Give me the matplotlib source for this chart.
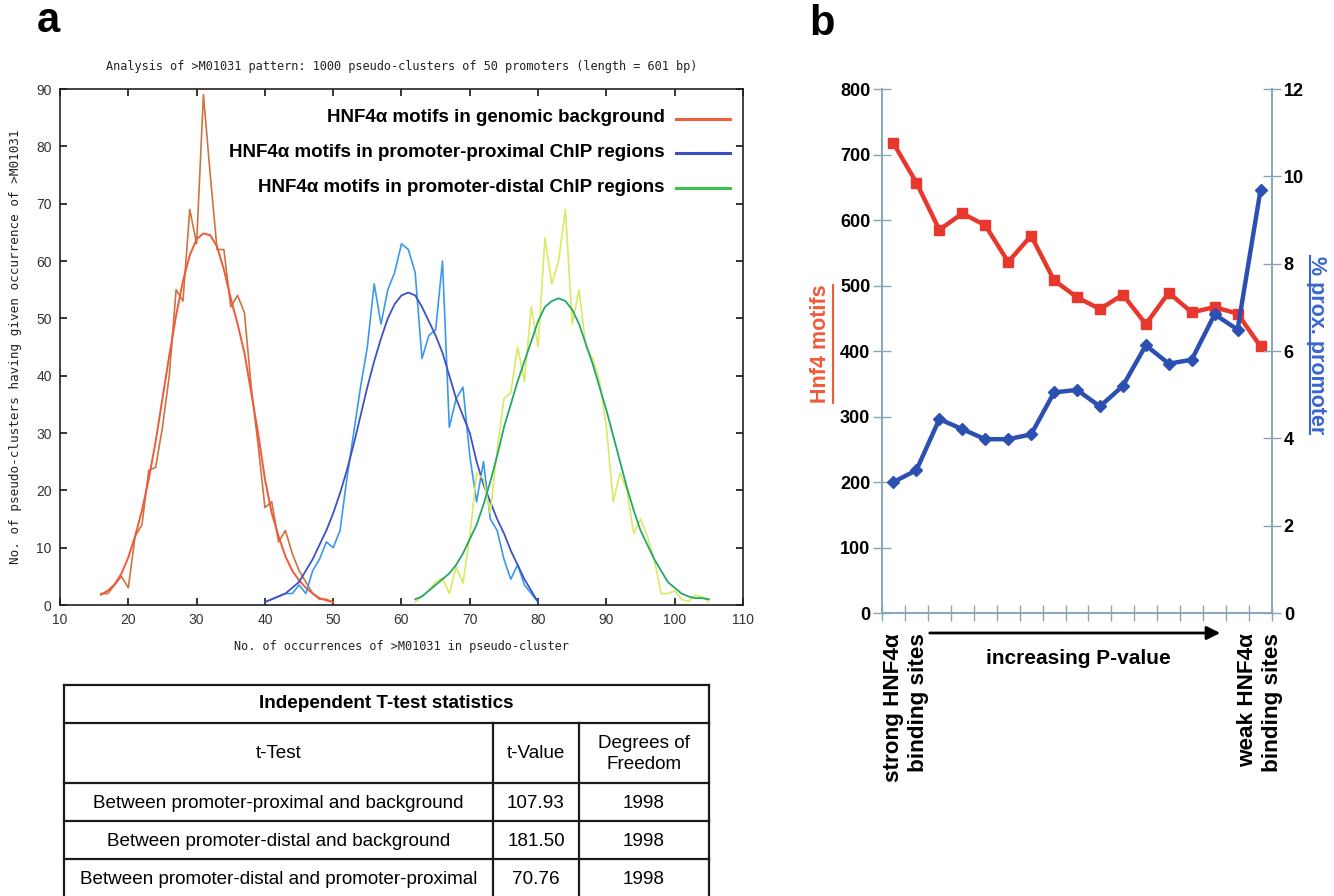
import numpy as np
import matplotlib
matplotlib.use("Agg")
import matplotlib.pyplot as plt
from matplotlib import font_manager

W, H = 1334, 896

# ---- panel a: counts per number of occurrences ----
bg_x = list(range(16, 51))
bg_raw = [2, 2, 3.5, 5, 3, 12, 14, 23.5, 24, 31, 40, 55, 53, 69, 63, 89, 75, 62, 62, 52,
          54, 51, 38, 28, 17, 18, 11, 13, 9, 6, 4, 2, 1, 1, 0.5]
bg_fit = [1.8, 2.5, 3.6, 5.5, 8.3, 12, 16.5, 22, 28.5, 36, 43.5, 50.5, 56.5, 61, 63.8, 64.8,
          64.5, 62.5, 58.5, 53.5, 49, 44, 37, 30, 22, 16, 12, 8.5, 6, 4.3, 3, 2, 1.2, 0.8, 0.5]

prox_x = list(range(40, 81))
prox_raw = [0.5, 1, 1.5, 2, 2, 3.5, 2, 6, 8, 11,
            10, 13, 22, 30, 38, 45, 56, 49, 55, 58,
            63, 62, 58, 43, 47, 48, 60, 31, 36, 38,
            26, 18, 25, 15, 13, 8, 4.5, 7, 3.5, 2, 0.5]
prox_fit = [0.5, 1, 1.5, 2, 3, 4, 6, 8, 10.5, 13,
            16, 19.5, 23.5, 28, 33, 38, 42.5, 46.5, 50, 52.5,
            54, 54.5, 54, 52, 49.5, 47, 44, 40, 36, 33,
            30, 25, 21, 18, 15, 12.5, 9.5, 7, 4.5, 2.5, 0.5]

dist_x = list(range(62, 106))
dist_raw = [0.5, 1.5, 2.5, 4, 4.7, 2, 6.7, 3.8,
            12, 23, 22, 16, 27, 36, 37, 45, 39, 52,
            45, 64, 56, 60, 69, 49, 55, 45, 43, 39,
            31, 18, 23, 20, 12.5, 15, 12, 8, 2, 2,
            2.5, 1, 0.6, 1.7, 1.5, 0.6]
dist_fit = [1, 1.5, 2.5, 3.5, 4.5, 5.5, 7, 9,
            11.5, 14, 17.5, 21.5, 26, 31, 35, 39, 42.5, 46,
            49.5, 52, 53, 53.5, 53, 51.5, 49, 45.5, 42, 38,
            34, 29.5, 25, 20.5, 16.5, 13, 10.5, 8, 6, 4,
            3, 2, 1.5, 1.2, 1.2, 1]

legend_labels = ["HNF4\u03b1 motifs in genomic background",
                 "HNF4\u03b1 motifs in promoter-proximal ChIP regions",
                 "HNF4\u03b1 motifs in promoter-distal ChIP regions"]

# ---- panel b: 17 bins from strong to weak binding sites ----
n_bins = 17
motifs = [717, 657, 585, 610, 592, 536, 576, 508, 482, 464, 486, 441, 489, 459, 467, 457, 407]
prox_pct = [3.0, 3.27, 4.44, 4.21, 3.98, 3.98, 4.09, 5.05, 5.11, 4.73, 5.20, 6.13, 5.71,
            5.80, 6.84, 6.49, 9.69]
left_ticks = list(range(0, 801, 100))
right_ticks = list(range(0, 13, 2))

# ---- table ----
tbl_title = "Independent T-test statistics"
tbl_header = ["t-Test", "t-Value", "Degrees of\nFreedom"]
tbl_tests = ["Between promoter-proximal and background",
             "Between promoter-distal and background",
             "Between promoter-distal and promoter-proximal"]
tbl_tvalues = ["107.93", "181.50", "70.76"]
tbl_df = ["1998", "1998", "1998"]

names = {f.name for f in font_manager.fontManager.ttflist}
narrow = "Liberation Sans Narrow" if "Liberation Sans Narrow" in names else "Liberation Sans"
tsize = 15.5 if narrow == "Liberation Sans Narrow" else 13.6
plt.rcParams["font.family"] = ["Liberation Sans", "DejaVu Sans"]
mono = "DejaVu Sans Mono"


def box(l, t, r, b):
    return [l / W, 1 - b / H, (r - l) / W, (b - t) / H]


fig = plt.figure(figsize=(W / 100, H / 100), dpi=100)

# ================= panel a =================
ax = fig.add_axes(box(60, 89, 743, 605))
ax.plot(bg_x, bg_raw, color="#cc7440", lw=1.2)
ax.plot(bg_x, bg_fit, color="#f2583a", lw=1.4)
ax.plot(prox_x, prox_raw, color="#3c98ea", lw=1.2)
ax.plot(prox_x, prox_fit, color="#3f52c4", lw=1.3)
ax.plot(dist_x, dist_raw, color="#dde862", lw=1.2)
ax.plot(dist_x, dist_fit, color="#22a86a", lw=1.3)
ax.set_xlim(10, 110)
ax.set_ylim(0, 90)
ax.set_xticks(range(10, 111, 10))
ax.set_yticks(range(0, 91, 10))
ax.tick_params(direction="in", top=True, right=True, length=5, width=1.1,
               labelsize=10, labelcolor="#333333", pad=6)
for s in ax.spines.values():
    s.set_color("#222222")
    s.set_linewidth(1.2)
ax.set_title("Analysis of >M01031 pattern: 1000 pseudo-clusters of 50 promoters (length = 601 bp)",
             fontsize=8.6, family=mono, color="#222222", pad=14)
ax.set_xlabel("No. of occurrences of >M01031 in pseudo-cluster", fontsize=8.6, family=mono,
              color="#222222", labelpad=9)
ax.set_ylabel("No. of pseudo-clusters having given occurrence of >M01031", fontsize=9.1,
              family=mono, color="#222222", labelpad=10)

# ================= panel b =================
axis_c = "#86a6b6"
bx = fig.add_axes(box(882, 89, 1272, 613))
bx2 = bx.twinx()
pos = np.arange(n_bins) + 0.5
bx.plot(pos, motifs, color="#e8372c", lw=3.2, marker="s", ms=7, zorder=3)
bx2.plot(pos, prox_pct, color="#2c50b2", lw=3.2, marker="D", ms=6.5, zorder=3)
bx.set_xlim(0, n_bins)
bx.set_ylim(0, 800)
bx2.set_ylim(0, 12)
bx.set_xticks(range(0, n_bins + 1))
bx.set_xticklabels([])
bx.set_yticks(left_ticks)
bx.set_yticklabels([str(v) for v in left_ticks], fontweight="bold", fontsize=13)
bx2.set_yticks(right_ticks)
bx2.set_yticklabels([str(v) for v in right_ticks], fontweight="bold", fontsize=13)
bx.tick_params(axis="y", direction="inout", length=13, width=1, color=axis_c, pad=2)
bx2.tick_params(axis="y", direction="inout", length=13, width=1, color=axis_c, pad=2)
bx.tick_params(axis="x", direction="inout", length=11, width=1, color=axis_c)
for a in (bx, bx2):
    a.spines["top"].set_visible(False)
    a.patch.set_visible(False)
    for k in ("left", "right", "bottom"):
        a.spines[k].set_color(axis_c)
        a.spines[k].set_linewidth(1.2)

# ================= overlay: letters, legend, annotations, table =================
ov = fig.add_axes([0, 0, 1, 1])
ov.set_xlim(0, W)
ov.set_ylim(H, 0)
ov.axis("off")

ov.text(48, 21, "a", fontsize=30, fontweight="bold", ha="center", va="center")
ov.text(822, 24, "b", fontsize=30, fontweight="bold", ha="center", va="center")

leg_colors = ["#f0603c", "#3a50c0", "#3cc050"]
for i, (lab, c) in enumerate(zip(legend_labels, leg_colors)):
    y = 118 + i * 34.5
    ov.text(665, y, lab, fontsize=13.5, fontweight="bold", ha="right", va="center")
    ov.plot([676, 730], [y + 1, y + 1], color=c, lw=2.2)

t_red = ov.text(821, 344, "Hnf4 motifs", rotation=90, fontsize=15.5, fontweight="bold",
                color="#f05a3a", ha="center", va="center")
t_blue = ov.text(1316, 345, "% prox. promoter", rotation=270, fontsize=15.5,
                 fontweight="bold", color="#3a66cc", ha="center", va="center")

ov.text(906, 633, "strong HNF4\u03b1\nbinding sites", rotation=90, fontsize=16.2,
        fontweight="bold", ha="center", va="top", multialignment="right", linespacing=1.3)
ov.text(1260, 633, "weak HNF4\u03b1\nbinding sites", rotation=90, fontsize=16.2,
        fontweight="bold", ha="center", va="top", multialignment="right", linespacing=1.3)
ov.annotate("", xy=(1223, 633), xytext=(927, 633),
            arrowprops=dict(arrowstyle="-|>", lw=2, color="black", mutation_scale=20))
ov.text(1078, 659, "increasing P-value", fontsize=15, fontweight="bold",
        ha="center", va="center")

# table
tl, tr = 64, 709
c1, c2 = 493, 579
rows = [685, 723, 783, 821, 859, 898]
lc = "#1a1a1a"
for y in rows:
    ov.plot([tl, tr], [y, y], color=lc, lw=1.6, solid_capstyle="projecting")
ov.plot([tl, tl], [rows[0], rows[-1]], color=lc, lw=1.6)
ov.plot([tr, tr], [rows[0], rows[-1]], color=lc, lw=1.6)
ov.plot([c1, c1], [rows[1], rows[-1]], color=lc, lw=1.6)
ov.plot([c2, c2], [rows[1], rows[-1]], color=lc, lw=1.6)

ov.text((tl + tr) / 2, (rows[0] + rows[1]) / 2, tbl_title, family=narrow, fontsize=tsize,
        fontweight="bold", ha="center", va="center")
col_x = [(tl + c1) / 2, (c1 + c2) / 2, (c2 + tr) / 2]
for x, h in zip(col_x, tbl_header):
    ov.text(x, (rows[1] + rows[2]) / 2 + 1, h, family=narrow, fontsize=tsize,
            ha="center", va="center", linespacing=1.35)
for i in range(3):
    y = (rows[2 + i] + rows[3 + i]) / 2 + 1
    ov.text(col_x[0], y, tbl_tests[i], family=narrow, fontsize=tsize, ha="center", va="center")
    ov.text(col_x[1], y, tbl_tvalues[i], family=narrow, fontsize=tsize, ha="center", va="center")
    ov.text(col_x[2], y, tbl_df[i], family=narrow, fontsize=tsize, ha="center", va="center")

# underline the two axis titles of panel b
fig.canvas.draw()
inv = ov.transData.inverted()
bb = t_red.get_window_extent()
(x0, y0), (x1, y1) = inv.transform([(bb.x0, bb.y0), (bb.x1, bb.y1)])
ov.plot([x1 + 1, x1 + 1], [y0, y1], color="#f05a3a", lw=1.5)
bb = t_blue.get_window_extent()
(x0, y0), (x1, y1) = inv.transform([(bb.x0, bb.y0), (bb.x1, bb.y1)])
ov.plot([x0 + 4, x0 + 4], [y0, y1], color="#3a66cc", lw=1.5)

fig.savefig("out.png", dpi=100)
